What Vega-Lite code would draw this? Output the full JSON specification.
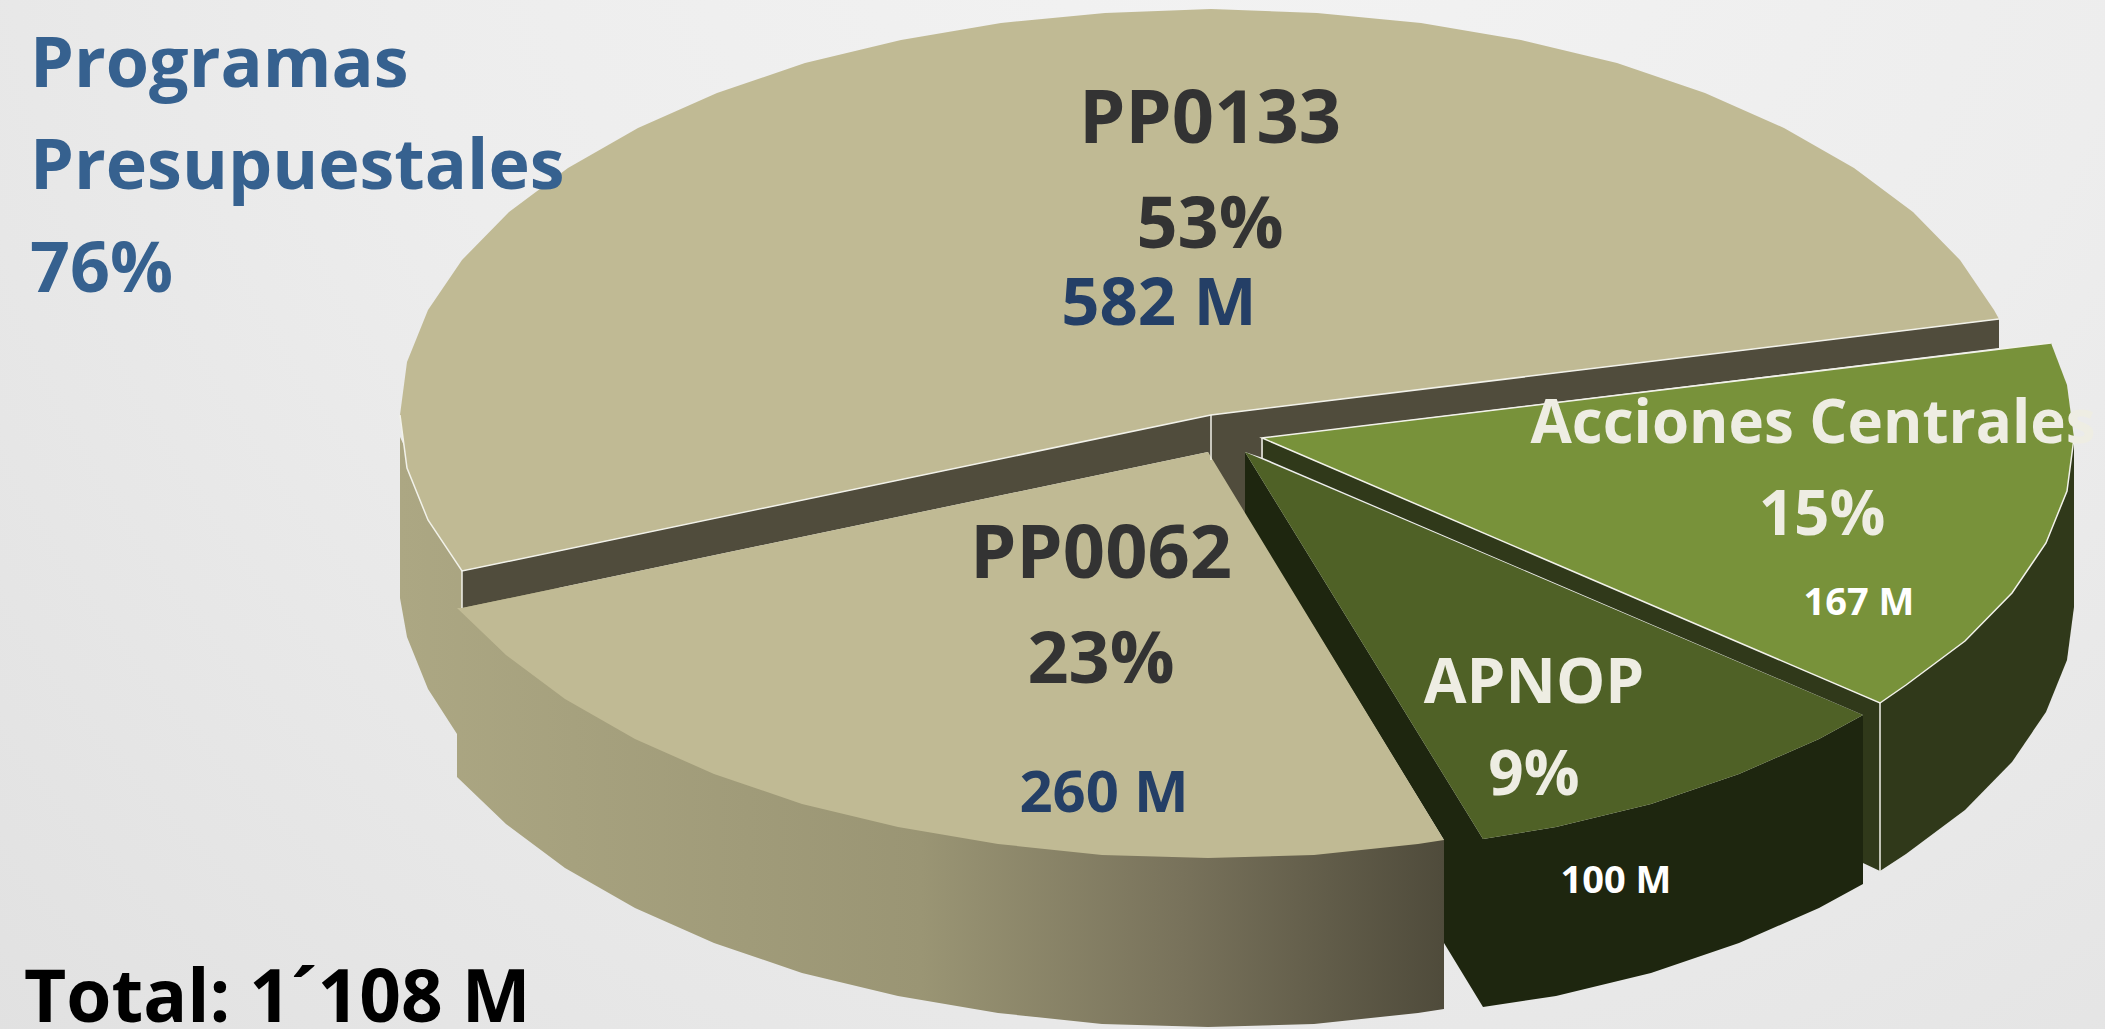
{"$schema":"https://vega.github.io/schema/vega-lite/v6.json","width":2105,"height":1029,"padding":0,"autosize":{"type":"none"},"background":"#eaeaea","view":{"stroke":null},
"datasets":{
"wall":[
{"x":400,"y":437},{"x":400,"y":598},{"x":407,"y":637},{"x":428,"y":689},{"x":457,"y":734},{"x":457,"y":777},{"x":506,"y":824},{"x":565,"y":868},{"x":635,"y":908},{"x":714,"y":943},{"x":802,"y":973},{"x":898,"y":996},{"x":998,"y":1013},{"x":1102,"y":1024},{"x":1208,"y":1027},{"x":1314,"y":1024},{"x":1418,"y":1013},{"x":1444,"y":1009},{"x":1444,"y":840},{"x":1208,"y":700},{"x":462,"y":571}],
"shapes":[
{"shape":"backwall","x":462,"y":571},{"shape":"backwall","x":1211,"y":415},{"shape":"backwall","x":1999,"y":319},{"shape":"backwall","x":1999,"y":348},{"shape":"backwall","x":1262,"y":438},{"shape":"backwall","x":1263,"y":458},{"shape":"backwall","x":1245,"y":452},{"shape":"backwall","x":1245,"y":515},{"shape":"backwall","x":1211,"y":460},{"shape":"backwall","x":1208,"y":452},{"shape":"backwall","x":462,"y":608},
{"shape":"PP0133","x":1211,"y":415},{"shape":"PP0133","x":462,"y":571},{"shape":"PP0133","x":428,"y":520},{"shape":"PP0133","x":407,"y":468},{"shape":"PP0133","x":400,"y":415},{"shape":"PP0133","x":407,"y":362},{"shape":"PP0133","x":428,"y":310},{"shape":"PP0133","x":462,"y":260},{"shape":"PP0133","x":509,"y":212},{"shape":"PP0133","x":568,"y":168},{"shape":"PP0133","x":638,"y":128},{"shape":"PP0133","x":717,"y":93},{"shape":"PP0133","x":805,"y":63},{"shape":"PP0133","x":901,"y":40},{"shape":"PP0133","x":1001,"y":23},{"shape":"PP0133","x":1105,"y":13},{"shape":"PP0133","x":1211,"y":9},{"shape":"PP0133","x":1317,"y":13},{"shape":"PP0133","x":1421,"y":23},{"shape":"PP0133","x":1521,"y":40},{"shape":"PP0133","x":1617,"y":63},{"shape":"PP0133","x":1705,"y":93},{"shape":"PP0133","x":1784,"y":128},{"shape":"PP0133","x":1854,"y":168},{"shape":"PP0133","x":1913,"y":212},{"shape":"PP0133","x":1960,"y":260},{"shape":"PP0133","x":1994,"y":310},{"shape":"PP0133","x":1999,"y":319},
{"shape":"apnopside","x":1245,"y":452},{"shape":"apnopside","x":1483,"y":839},{"shape":"apnopside","x":1483,"y":1007},{"shape":"apnopside","x":1444,"y":943},{"shape":"apnopside","x":1444,"y":840},{"shape":"apnopside","x":1245,"y":515},
{"shape":"PP0062","x":1208,"y":452},{"shape":"PP0062","x":1444,"y":840},{"shape":"PP0062","x":1418,"y":844},{"shape":"PP0062","x":1314,"y":855},{"shape":"PP0062","x":1208,"y":858},{"shape":"PP0062","x":1102,"y":855},{"shape":"PP0062","x":998,"y":844},{"shape":"PP0062","x":898,"y":827},{"shape":"PP0062","x":802,"y":804},{"shape":"PP0062","x":714,"y":774},{"shape":"PP0062","x":635,"y":739},{"shape":"PP0062","x":565,"y":699},{"shape":"PP0062","x":506,"y":655},{"shape":"PP0062","x":457,"y":608},{"shape":"PP0062","x":462,"y":608},
{"shape":"apnopfront","x":1863,"y":715},{"shape":"apnopfront","x":1819,"y":739},{"shape":"apnopfront","x":1739,"y":774},{"shape":"apnopfront","x":1651,"y":804},{"shape":"apnopfront","x":1556,"y":827},{"shape":"apnopfront","x":1483,"y":839},{"shape":"apnopfront","x":1483,"y":1007},{"shape":"apnopfront","x":1556,"y":996},{"shape":"apnopfront","x":1651,"y":973},{"shape":"apnopfront","x":1739,"y":943},{"shape":"apnopfront","x":1819,"y":908},{"shape":"apnopfront","x":1863,"y":884},
{"shape":"APNOP","x":1245,"y":452},{"shape":"APNOP","x":1863,"y":715},{"shape":"APNOP","x":1819,"y":739},{"shape":"APNOP","x":1739,"y":774},{"shape":"APNOP","x":1651,"y":804},{"shape":"APNOP","x":1556,"y":827},{"shape":"APNOP","x":1483,"y":839},
{"shape":"accside","x":1262,"y":438},{"shape":"accside","x":1880,"y":703},{"shape":"accside","x":1880,"y":871},{"shape":"accside","x":1863,"y":863},{"shape":"accside","x":1863,"y":715},{"shape":"accside","x":1263,"y":458},
{"shape":"accouter","x":2074,"y":438},{"shape":"accouter","x":2074,"y":607},{"shape":"accouter","x":2067,"y":660},{"shape":"accouter","x":2046,"y":712},{"shape":"accouter","x":2012,"y":762},{"shape":"accouter","x":1965,"y":810},{"shape":"accouter","x":1906,"y":854},{"shape":"accouter","x":1880,"y":871},{"shape":"accouter","x":1880,"y":703},
{"shape":"Acciones","x":1262,"y":438},{"shape":"Acciones","x":2051,"y":343},{"shape":"Acciones","x":2067,"y":385},{"shape":"Acciones","x":2074,"y":438},{"shape":"Acciones","x":2067,"y":491},{"shape":"Acciones","x":2046,"y":543},{"shape":"Acciones","x":2012,"y":593},{"shape":"Acciones","x":1965,"y":641},{"shape":"Acciones","x":1906,"y":685},{"shape":"Acciones","x":1880,"y":703}],
"edges":[
{"edge":"a","x":400,"y":415},{"edge":"a","x":407,"y":468},{"edge":"a","x":428,"y":520},{"edge":"a","x":462,"y":571},{"edge":"a","x":1211,"y":415},{"edge":"a","x":1999,"y":319},
{"edge":"b","x":462,"y":571},{"edge":"b","x":462,"y":608},
{"edge":"c","x":1211,"y":415},{"edge":"c","x":1211,"y":460},
{"edge":"d","x":2051,"y":343},{"edge":"d","x":1262,"y":438},{"edge":"d","x":1880,"y":703},{"edge":"d","x":1906,"y":685},{"edge":"d","x":1965,"y":641},{"edge":"d","x":2012,"y":593},{"edge":"d","x":2046,"y":543},{"edge":"d","x":2067,"y":491},{"edge":"d","x":2074,"y":438},
{"edge":"e","x":1880,"y":703},{"edge":"e","x":1880,"y":871},
{"edge":"f","x":1262,"y":438},{"edge":"f","x":1262,"y":458}],
"labels":[
{"text":"PP0133","x":1210,"y":143,"role":"name"},{"text":"53%","x":1210,"y":248,"role":"pct"},{"text":"582 M","x":1159,"y":325,"role":"valueL"},
{"text":"PP0062","x":1101,"y":578,"role":"name"},{"text":"23%","x":1101,"y":683,"role":"pct"},{"text":"260 M","x":1104,"y":812,"role":"valueM"},
{"text":"Acciones Centrales","x":1813,"y":443,"role":"long"},{"text":"15%","x":1822,"y":535,"role":"cream"},{"text":"167 M","x":1859,"y":615,"role":"valueS"},
{"text":"APNOP","x":1534,"y":703,"role":"cream"},{"text":"9%","x":1534,"y":795,"role":"cream"},{"text":"100 M","x":1616,"y":893,"role":"valueS"}],
"notes":[
{"text":"Programas","x":30,"y":87,"role":"heading"},{"text":"Presupuestales","x":30,"y":189,"role":"heading"},{"text":"76%","x":30,"y":292,"role":"heading"},{"text":"Total: 1´108 M","x":24,"y":1022,"role":"total"}]
},
"layer":[
{"data":{"values":[{"a":0}]},"mark":{"type":"rect","fill":{"gradient":"radial","x1":0.6,"y1":0.15,"r1":0,"x2":0.6,"y2":0.15,"r2":0.85,"stops":[{"offset":0,"color":"#f3f3f3"},{"offset":0.5,"color":"#ededed"},{"offset":1,"color":"#e1e1e1"}]}},"encoding":{"x":{"datum":0,"type":"quantitative","scale":{"domain":[0,2105],"nice":false,"zero":false},"axis":null},"x2":{"datum":2105},"y":{"datum":0,"type":"quantitative","scale":{"domain":[1029,0],"nice":false,"zero":false},"axis":null},"y2":{"datum":1029}}},
{"data":{"name":"wall"},"mark":{"type":"line","strokeWidth":0,"fill":{"gradient":"linear","x1":0,"y1":0,"x2":1,"y2":0,"stops":[{"offset":0,"color":"#aca783"},{"offset":0.5,"color":"#9a9574"},{"offset":0.75,"color":"#78725b"},{"offset":1,"color":"#4f4b3b"}]}},"encoding":{"x":{"field":"x","type":"quantitative","axis":null},"y":{"field":"y","type":"quantitative","axis":null},"order":{"value":null}}},
{"data":{"name":"shapes"},"mark":{"type":"line","strokeWidth":0,"filled":true},"encoding":{"x":{"field":"x","type":"quantitative","axis":null},"y":{"field":"y","type":"quantitative","axis":null},"order":{"value":null},"detail":{"field":"shape"},"fill":{"field":"shape","type":"nominal","legend":null,"scale":{"domain":["backwall","PP0133","apnopside","PP0062","apnopfront","APNOP","accside","accouter","Acciones"],"range":["#504c3c","#c0ba94","#1e260f","#c0ba94","#1e260f","#4f6126","#30391a","#30391a","#78923a"]}}}},
{"data":{"name":"edges"},"mark":{"type":"line","stroke":"#f2f2ea","strokeWidth":1.5},"encoding":{"x":{"field":"x","type":"quantitative","axis":null},"y":{"field":"y","type":"quantitative","axis":null},"order":{"value":null},"detail":{"field":"edge"}}},
{"data":{"name":"labels"},"mark":{"type":"text","font":"Open Sans","fontWeight":"bold","align":"center","baseline":"alphabetic"},"encoding":{"x":{"field":"x","type":"quantitative","axis":null},"y":{"field":"y","type":"quantitative","axis":null},"text":{"field":"text"},"size":{"field":"role","type":"nominal","legend":null,"scale":{"type":"ordinal","domain":["name","pct","valueL","valueM","cream","long","valueS"],"range":[74,72,67,58,62,60,38]}},"color":{"field":"role","type":"nominal","legend":null,"scale":{"domain":["name","pct","valueL","valueM","cream","long","valueS"],"range":["#333333","#333333","#243f66","#243f66","#eeede3","#eeede3","#ffffff"]}}}},
{"data":{"name":"notes"},"mark":{"type":"text","font":"Open Sans","fontWeight":"bold","align":"left","baseline":"alphabetic"},"encoding":{"x":{"field":"x","type":"quantitative","axis":null},"y":{"field":"y","type":"quantitative","axis":null},"text":{"field":"text"},"size":{"field":"role","type":"nominal","legend":null,"scale":{"type":"ordinal","domain":["heading","total"],"range":[70,73]}},"color":{"field":"role","type":"nominal","legend":null,"scale":{"domain":["heading","total"],"range":["#36618f","#000000"]}}}}
],
"resolve":{"scale":{"color":"independent","size":"independent"}}
}
